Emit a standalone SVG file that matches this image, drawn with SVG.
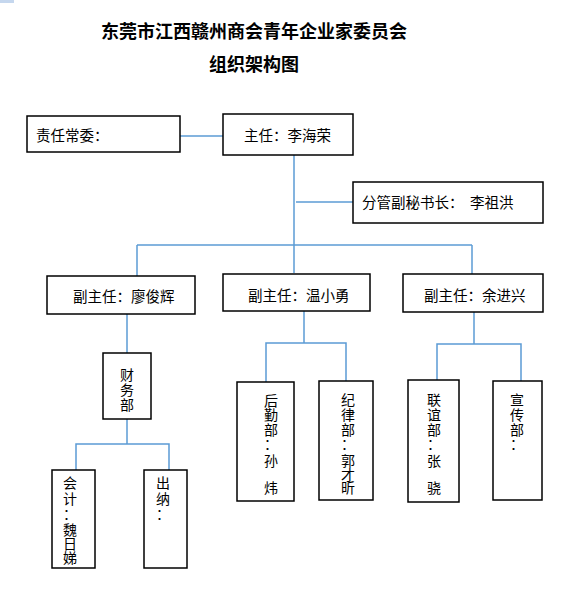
<svg xmlns="http://www.w3.org/2000/svg" width="584" height="610" viewBox="0 0 584 610">
<style>
.box{fill:#fff;stroke:#000;stroke-width:1.5}
.ln{fill:none;stroke:#5b9bd5;stroke-width:1.5}
.t{font-family:"Noto Sans CJK SC","Noto Sans CJK JP",sans-serif;font-size:14.5px;fill:#000}
.v{font-family:"Noto Sans CJK SC","Noto Sans CJK JP",sans-serif;font-size:14px;fill:#000;text-anchor:middle}
.title{font-family:"Noto Sans CJK SC","Noto Sans CJK JP",sans-serif;font-size:18px;font-weight:bold;fill:#000;text-anchor:middle}
</style>
<rect x="0" y="0" width="14" height="3" fill="#c5d7ee"/>
<g id="title">
<text class="title" x="254" y="38">东莞市江西赣州商会青年企业家委员会</text>
<text class="title" x="254" y="71">组织架构图</text>
</g>
<g id="connectors">
<path class="ln" d="M180 136H223"/>
<path class="ln" d="M294 155V273"/>
<path class="ln" d="M296 202H353"/>
<path class="ln" d="M137 245H472"/>
<path class="ln" d="M137 245V276"/>
<path class="ln" d="M472 245V274"/>
<path class="ln" d="M127 314V353"/>
<path class="ln" d="M127 419V444"/>
<path class="ln" d="M76 470V444H169V470"/>
<path class="ln" d="M304 311V343"/>
<path class="ln" d="M266 382V343H346V381"/>
<path class="ln" d="M474 312V344"/>
<path class="ln" d="M437 380V344H521V381"/>
</g>
<g id="n-changwei">
<rect class="box" x="27" y="116" width="153" height="36"/>
<text class="t" x="36" y="141">责任常委：</text>
</g>
<g id="n-zhuren">
<rect class="box" x="223" y="114" width="130" height="41"/>
<text class="t" x="244" y="141">主任：李海荣</text>
</g>
<g id="n-mishu">
<rect class="box" x="353" y="182" width="190" height="41"/>
<text class="t" x="362" y="208" xml:space="preserve">分管副秘书长：  李祖洪</text>
</g>
<g id="n-vice1">
<rect class="box" x="47" y="276" width="148" height="38"/>
<text class="t" x="73" y="302">副主任：廖俊辉</text>
</g>
<g id="n-vice2">
<rect class="box" x="223" y="274" width="147" height="37"/>
<text class="t" x="248" y="301">副主任：温小勇</text>
</g>
<g id="n-vice3">
<rect class="box" x="403" y="274" width="140" height="38"/>
<text class="t" x="424" y="301">副主任：余进兴</text>
</g>
<g id="n-caiwu">
<rect class="box" x="103" y="353" width="48" height="66"/>
<text class="v"><tspan x="127" y="380">财</tspan><tspan x="127" y="395">务</tspan><tspan x="127" y="410">部</tspan></text>
</g>
<g id="n-kuaiji">
<rect class="box" x="52" y="470" width="43" height="98"/>
<text class="v"><tspan x="70" y="488">会</tspan><tspan x="70" y="504">计</tspan><tspan x="70" y="519">：</tspan><tspan x="70" y="535">魏</tspan><tspan x="70" y="549">日</tspan><tspan x="70" y="563">娣</tspan></text>
</g>
<g id="n-chuna">
<rect class="box" x="144" y="470" width="43" height="98"/>
<text class="v"><tspan x="163" y="488">出</tspan><tspan x="163" y="504">纳</tspan><tspan x="163" y="519">：</tspan></text>
</g>
<g id="n-houqin">
<rect class="box" x="237" y="382" width="57" height="119"/>
<text class="v"><tspan x="271" y="406">后</tspan><tspan x="271" y="420">勤</tspan><tspan x="271" y="435">部</tspan><tspan x="271" y="449">：</tspan><tspan x="271" y="466">孙</tspan><tspan x="271" y="493">炜</tspan></text>
</g>
<g id="n-jilv">
<rect class="box" x="319" y="381" width="54" height="119"/>
<text class="v"><tspan x="348" y="405">纪</tspan><tspan x="348" y="420">律</tspan><tspan x="348" y="435">部</tspan><tspan x="348" y="449">：</tspan><tspan x="348" y="466">郭</tspan><tspan x="348" y="480">才</tspan><tspan x="348" y="493">昕</tspan></text>
</g>
<g id="n-lianyi">
<rect class="box" x="408" y="380" width="51" height="122"/>
<text class="v"><tspan x="434" y="405">联</tspan><tspan x="434" y="420">谊</tspan><tspan x="434" y="435">部</tspan><tspan x="434" y="449">：</tspan><tspan x="434" y="466">张</tspan><tspan x="434" y="493">骁</tspan></text>
</g>
<g id="n-xuanchuan">
<rect class="box" x="493" y="381" width="49" height="119"/>
<text class="v"><tspan x="517" y="405">宣</tspan><tspan x="517" y="420">传</tspan><tspan x="517" y="435">部</tspan><tspan x="517" y="449">：</tspan></text>
</g>
</svg>
